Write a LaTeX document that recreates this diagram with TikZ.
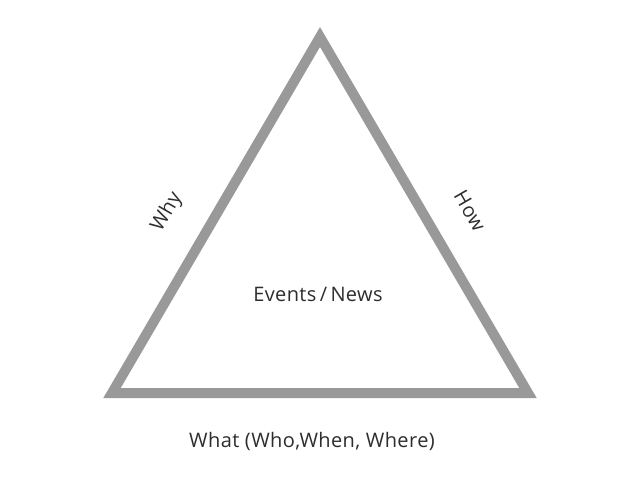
\documentclass[tikz,border=0pt]{standalone}
\usepackage{fontspec}
\setmainfont{Open Sans}[LetterSpace=2]
\definecolor{edgegray}{RGB}{153,153,153}
\definecolor{textgray}{RGB}{45,45,45}
\begin{document}
\begin{tikzpicture}[x=0.75pt,y=-0.75pt,
  lbl/.style={text=textgray,font=\fontsize{15}{18}\selectfont,inner sep=0pt},
  edge/.style={draw=edgegray,line width=7.5pt,miter limit=10}]
\useasboundingbox (0,0) rectangle (640,480);
\coordinate (top) at (320,37);
\coordinate (bl) at (112,393);
\coordinate (br) at (528,393);
\draw[edge] (top) -- (br) -- (bl) -- cycle;
\node[lbl,rotate=60] (why) at (167,212) {Why};
\node[lbl,rotate=-60] (how) at (470,211) {How};
\node[lbl] (ev) at (318,294) {Events\,/\,News};
\node[lbl] (what) at (312,441) {What (Who,When, Where)};
\end{tikzpicture}
\end{document}
